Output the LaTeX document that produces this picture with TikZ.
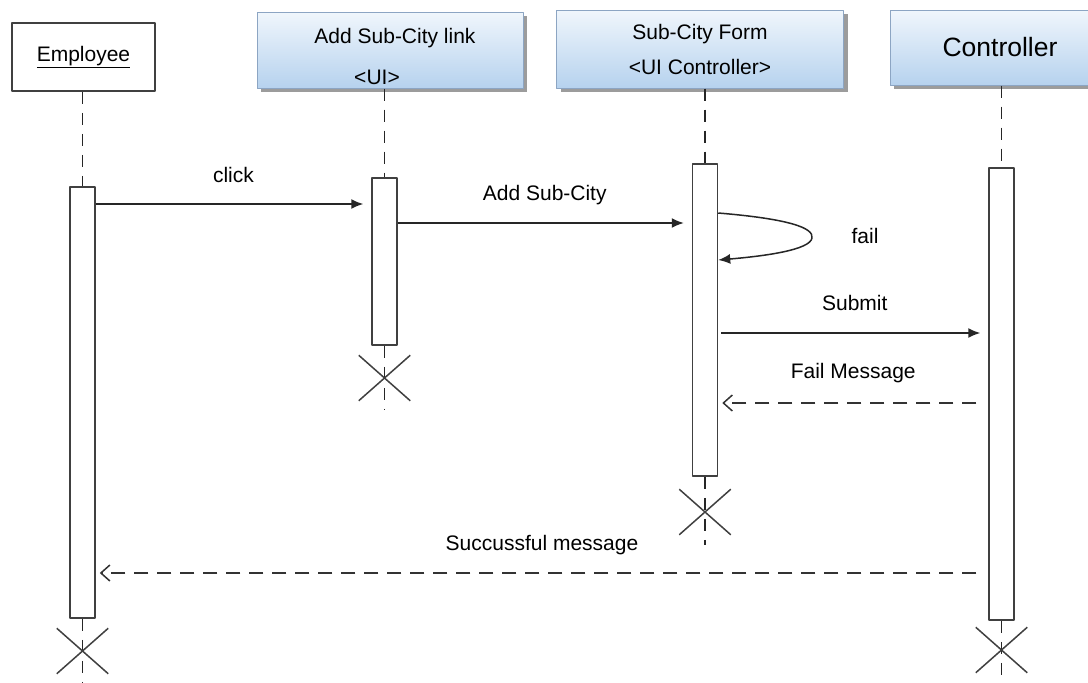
\documentclass[tikz,border=0pt]{standalone}
\usepackage{fontspec}
\setmainfont{Liberation Sans}
\usetikzlibrary{arrows.meta,shadows,shapes.misc}
\definecolor{boxtop}{RGB}{240,246,252}
\definecolor{boxbot}{RGB}{182,210,238}
\definecolor{boxline}{RGB}{140,165,195}
\begin{document}
\begin{tikzpicture}[x=1pt, y=-1pt, line join=round, line cap=butt,
	font=\fontsize{21}{25}\selectfont,
	obj/.style={draw=boxline, line width=1pt, top color=boxtop, bottom color=boxbot, inner sep=0,
		drop shadow={shadow xshift=4pt, shadow yshift=-4pt, fill=black!55, opacity=0.7}},
	act/.style={draw=black!75, line width=1.5pt, fill=white, minimum width=25pt, inner sep=0},
	life/.style={draw=black!85, line width=1.6pt, dash pattern=on 12pt off 9pt},
	msg/.style={draw=black!85, line width=1.5pt, shorten >=8pt, -{Latex[length=12pt,width=10pt]}},
	ret/.style={draw=black!80, line width=1.5pt, dash pattern=on 14pt off 9pt, shorten <=12pt, shorten >=4pt,
		-{Straight Barb[length=9pt,width=16pt]}},
	kill/.style={draw=black!75, line width=1.5pt, cross out, minimum width=50pt, minimum height=44pt, inner sep=0}]
	\useasboundingbox (0,0) rectangle (1088,683);
	\fill[white] (0,0) rectangle (1088,683);
	\clip (0,0) rectangle (1088,683);

	% objects
	\node[draw=black!75, line width=1.5pt, fill=white, minimum width=143pt, minimum height=68pt] (emp) at (83.5,57) {\underline{Employee}};
	\node[obj, minimum width=266pt, minimum height=76pt] (lnk) at (390,50) {};
	\node (lnkA) at (395,38) {Add Sub-City link};
	\node (lnkB) at (377,77) {<UI>};
	\node[obj, minimum width=287pt, minimum height=78pt, align=center, font=\fontsize{21}{35}\selectfont] (frm) at (700,49) {Sub-City Form\\<UI Controller>};
	\node[obj, minimum width=220pt, minimum height=75pt, font=\fontsize{26.5}{30}\selectfont] (ctl) at (1000,47.5) {Controller};

	% activations
	\node[act, minimum height=431pt] (actE) at (82.5,402.5) {};
	\node[act, minimum height=167pt] (actL) at (384.5,261.5) {};
	\node[act, minimum height=312pt] (actF) at (705,320) {};
	\node[act, minimum height=452pt] (actC) at (1001.5,394) {};

	% lifelines
	\coordinate (endE) at (82.5,683);
	\coordinate (endL) at (384.5,410);
	\coordinate (endF) at (705,545);
	\coordinate (endC) at (1001.5,683);
	\draw[life] (emp.south -| actE) -- (actE.north);
	\draw[life] (lnk.south -| actL) -- (actL.north);
	\draw[life] (frm.south -| actF) -- (actF.north);
	\draw[life] (ctl.south -| actC) -- (actC.north);
	\draw[life] (actE.south) -- (endE);
	\draw[life] (actL.south) -- (endL);
	\draw[life] (actF.south) -- (endF);
	\draw[life] (actC.south) -- (endC);

	% destroy marks
	\node[kill] (xE) at (82.5,651) {};
	\node[kill] (xL) at (384.5,378) {};
	\node[kill] (xF) at (705,512) {};
	\node[kill] (xC) at (1001.5,650) {};

	% messages
	\coordinate (yClick) at (0,204);
	\coordinate (yAdd) at (0,223);
	\coordinate (ySub) at (0,333);
	\coordinate (yFail) at (0,403);
	\coordinate (yOk) at (0,573);
	\draw[msg] (actE.east |- yClick) -- node[yshift=29pt] {click} (actL.west |- yClick);
	\draw[msg] (actL.east |- yAdd) -- node[yshift=28pt] {Add Sub-City} (actF.west |- yAdd);
	\draw[msg, shorten >=0pt] (actF.east |- 0,213) .. controls (790,219) and (814,228) .. (812,238)
		.. controls (810,250) and (765,256) .. (actF.east |- 0,260);
	\node (failL) at (865,236) {fail};
	\draw[msg] ([xshift=3pt]actF.east |- ySub) -- node[yshift=30pt] {Submit} (actC.west |- ySub);
	\draw[ret] (actC.west |- yFail) -- node[yshift=30pt] {Fail Message} (actF.east |- yFail);
	\draw[ret] (actC.west |- yOk) -- node[yshift=28pt] {Succussful message} (actE.east |- yOk);
\end{tikzpicture}
\end{document}
